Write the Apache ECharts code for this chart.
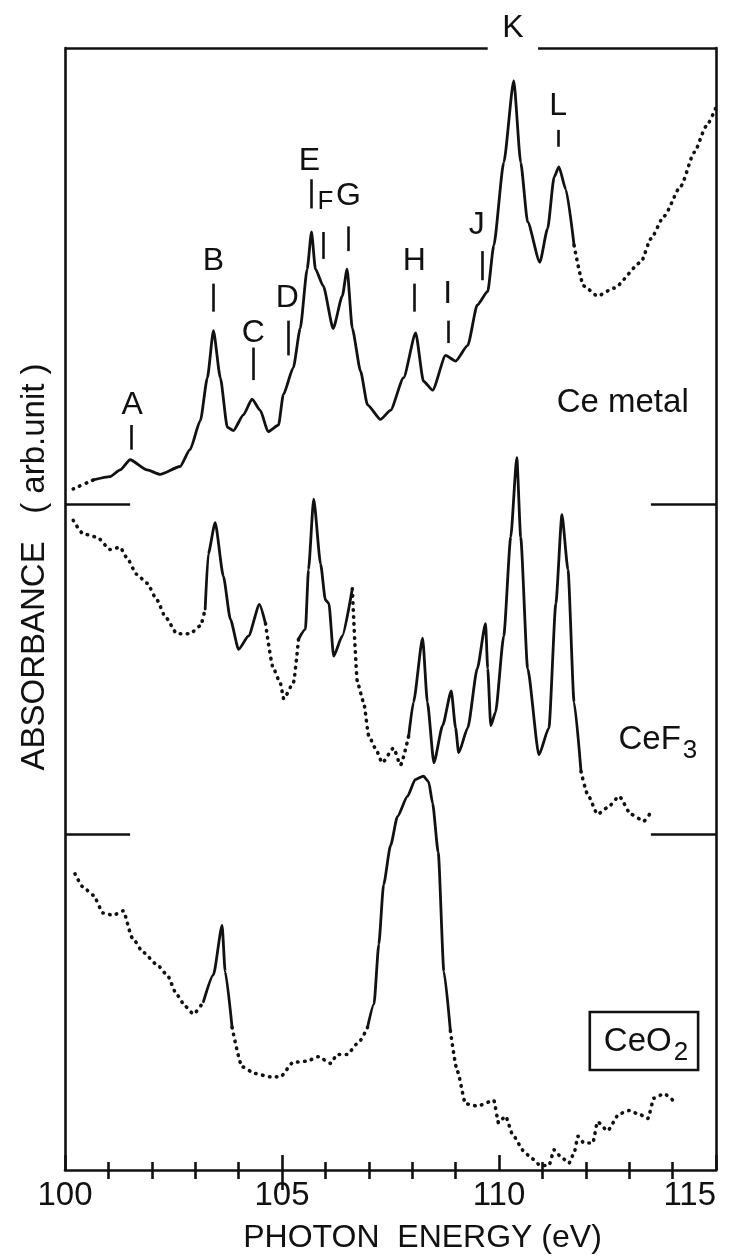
<!DOCTYPE html>
<html><head><meta charset="utf-8">
<script src="https://cdn.jsdelivr.net/npm/echarts@6/dist/echarts.min.js"></script>
<style>html,body{margin:0;padding:0;background:#fff}#c{width:747px;height:1259px}</style>
</head><body><div id="c"></div>
<script>
// ---- data (photon energy in eV, absorbance in arb. units relative to each curve's baseline) ----
const ceMetalE = [100.19,100.65,101.04,101.27,101.5,101.89,102.19,102.65,102.88,103.12,103.28,103.42,103.58,103.74,103.88,104.11,104.31,104.5,104.68,104.92,105.03,105.26,105.42,105.58,105.68,105.77,105.95,106.18,106.39,106.5,106.62,106.81,106.97,107.27,107.5,107.8,108.08,108.26,108.47,108.77,109.0,109.28,109.5,109.74,109.88,110.11,110.34,110.5,110.66,110.94,111.12,111.27,111.38,111.54,111.73,111.95,112.27,112.65,113.27,113.5,113.8,114.19,114.5,114.77,115.0];
const ceMetalV = [1.4,2.2,2.5,3.1,4.0,3.1,2.7,3.4,4.9,7.5,11.3,15.5,11.3,6.9,6.6,8.0,9.4,8.4,6.5,7.1,9.8,12.2,15.7,21.0,24.3,21.0,19.5,15.7,18.6,21.0,15.7,11.9,8.9,7.6,8.4,11.3,15.3,11.0,10.2,13.3,12.8,14.2,17.8,19.0,23.1,30.5,37.8,30.5,25.2,21.6,24.6,29.2,30.1,28.1,23.1,19.5,18.6,19.3,21.6,23.7,25.7,28.4,31.4,33.7,35.4];
const ceMetalOffset = 59.3;
const ceMetalDotted = [[100, 100.7], [111.95, 115]];

const ceF3E = [100.19,100.42,100.74,101.04,101.27,101.42,101.65,101.89,102.12,102.31,102.58,102.88,103.12,103.23,103.3,103.46,103.65,103.81,104.0,104.23,104.48,104.62,104.8,104.96,105.04,105.26,105.38,105.54,105.61,105.73,105.89,106.0,106.08,106.19,106.39,106.62,106.74,106.88,107.0,107.15,107.31,107.57,107.73,107.92,108.03,108.24,108.35,108.5,108.7,108.9,109.0,109.07,109.28,109.5,109.69,109.74,109.81,109.92,110.11,110.27,110.41,110.5,110.66,110.92,111.15,111.31,111.45,111.59,111.73,111.89,112.05,112.27,112.5,112.77,113.04,113.34,113.5];
const ceF3V = [28.0,26.8,26.5,25.4,25.6,24.7,23.2,22.4,20.9,19.4,17.9,17.9,18.6,20.1,25.0,27.8,23.0,19.2,16.5,17.7,20.5,18.8,14.8,13.5,12.1,13.5,17.4,18.3,23.6,29.9,24.1,20.9,20.6,15.9,17.7,21.9,13.5,11.8,8.8,7.7,6.4,7.7,6.2,8.8,11.8,17.5,11.8,6.4,9.7,12.8,9.5,7.3,9.5,14.8,18.8,14.8,9.7,10.9,17.7,26.5,33.6,26.5,14.8,7.1,9.5,20.6,28.5,23.6,11.8,5.6,3.5,1.8,2.4,3.4,1.8,1.2,2.0];
const ceF3Offset = 29.9;
const ceF3Dotted = [[100, 103.23], [104.8, 105.38], [106.74, 107.92], [112.0, 114]];

const ceO2E = [100.23,100.42,100.65,100.88,101.11,101.34,101.55,101.8,102.12,102.35,102.58,102.77,102.96,103.19,103.42,103.62,103.69,103.85,104.08,104.38,104.73,104.96,105.26,105.58,105.84,106.12,106.27,106.5,106.77,106.97,107.12,107.23,107.34,107.5,107.66,107.89,108.07,108.26,108.38,108.47,108.6,108.73,108.88,109.04,109.23,109.5,109.88,109.99,110.15,110.32,110.57,110.73,110.96,111.15,111.27,111.42,111.61,111.73,111.82,111.96,112.16,112.27,112.5,112.77,113.0,113.27,113.43,113.57,113.8,114.04];
const ceO2V = [26.4,25.2,24.5,22.9,22.7,23.1,20.7,19.4,18.3,17.4,15.6,14.6,13.9,15.0,17.4,21.8,17.7,12.7,9.2,8.6,8.3,8.3,9.6,9.7,10.1,9.5,10.3,10.3,11.4,12.7,14.8,20.1,25.4,28.9,31.5,33.3,34.8,35.1,34.6,32.7,28.3,17.7,12.4,8.8,5.9,5.7,6.2,4.2,4.8,3.1,1.7,1.1,0.4,0.4,1.8,1.2,0.6,1.5,3.0,2.4,2.4,4.3,3.5,5.0,5.3,4.9,4.6,6.4,6.8,6.1];
const ceO2Offset = 0;
const ceO2Dotted = [[100, 103.19], [104.08, 107.0], [109.0, 115]];

// peak markers
const peakNames = ['A','B','C','D','E','F','G','H','I','J','K','L'];
const peakLabelE = [101.55,103.42,104.34,105.12,105.63,106.0,106.53,108.05,108.82,109.49,110.32,111.36];
const peakLabelV = [68.2,81.0,74.6,77.7,89.9,86.3,86.8,81.0,78.1,84.2,101.8,94.8];
const peakTickE = [101.52,103.42,104.34,105.15,105.68,105.95,106.53,108.05,108.82,109.62,110.27,111.36];
const peakTickTop = [66.4,79.0,73.3,75.7,88.3,83.6,84.1,79.0,75.7,81.9,100.5,92.7];
const peakTickBottom = [64.2,76.5,70.4,72.6,85.7,81.2,81.9,76.5,73.7,79.3,98.8,91.2];

// sample names
const sampleNames = ['Ce metal', 'CeF3', 'CeO2'];
const sampleLabelE = [112.85, 113.66, 113.34];
const sampleLabelV = [68.4, 38.3, 11.5];

// axis ticks
const xMin = 100, xMax = 115, xMajor = 5;
const topAxisGap = [109.74, 110.9];
const baselineLeftEnd = 101.5, baselineRightStart = 113.5;

// ---- chart ----
const FONT = "'Liberation Sans', Arial, sans-serif";
const INK = '#111111';

function segments(E, V, off, dotted) {
  const isDot = e => dotted.some(r => e >= r[0] && e <= r[1]);
  const segs = []; let cur = null;
  for (let i = 0; i < E.length; i++) {
    const d = isDot(E[i]);
    const p = [E[i], +(V[i] + off).toFixed(2)];
    if (!cur || cur.dot !== d) {
      const s = { dot: d, pts: [] };
      if (cur) s.pts.push(cur.pts[cur.pts.length - 1]);
      segs.push(s); cur = s;
    }
    cur.pts.push(p);
  }
  return segs;
}

const series = [];
[[ceMetalE, ceMetalV, ceMetalOffset, ceMetalDotted],
 [ceF3E, ceF3V, ceF3Offset, ceF3Dotted],
 [ceO2E, ceO2V, ceO2Offset, ceO2Dotted]].forEach(([E, V, off, dot]) => {
  segments(E, V, off, dot).forEach(s => {
    series.push({
      type: 'line', data: s.pts, showSymbol: false, silent: true, z: 3,
      smooth: 0.2, smoothMonotone: 'x',
      lineStyle: s.dot
        ? { color: INK, width: 3.6, type: [0.5, 6.5], cap: 'round' }
        : { color: INK, width: 2.8, cap: 'round', join: 'round' }
    });
  });
});

const tickLines = peakNames.map((n, i) => [
  { coord: [peakTickE[i], peakTickTop[i]] },
  { coord: [peakTickE[i], peakTickBottom[i]] }
]);
const baseLines = [ceMetalOffset, ceF3Offset].flatMap(b => [
  [{ coord: [xMin, b] }, { coord: [baselineLeftEnd, b] }],
  [{ coord: [baselineRightStart, b] }, { coord: [xMax, b] }]
]);
const topLines = [
  [{ coord: [xMin, 100] }, { coord: [topAxisGap[0], 100] }],
  [{ coord: [topAxisGap[1], 100] }, { coord: [xMax, 100] }]
];

const labelBase = {
  show: true, position: 'inside', color: INK, fontFamily: FONT, opacity: 1,
  align: 'center', verticalAlign: 'middle', textBorderWidth: 0, textShadowBlur: 0
};

series.push({
  type: 'scatter', symbolSize: 0, clip: false, silent: true, z: 5,
  itemStyle: { color: INK, opacity: 1 },
  data: peakNames.map((n, i) => ({
    value: [peakLabelE[i], peakLabelV[i], n],
    label: n === 'F' ? { fontSize: 26 } : undefined
  })),
  label: Object.assign({}, labelBase, { fontSize: 32, formatter: p => p.data.value[2] }),
  markLine: {
    silent: true, symbol: ['none', 'none'], label: { show: false },
    lineStyle: { color: INK, width: 2.6, type: 'solid', opacity: 1 },
    data: tickLines.concat(baseLines, topLines)
  }
});

const sampleFmt = {
  'Ce metal': 'Ce metal',
  'CeF3': 'CeF{s|3}',
  'CeO2': 'CeO{s|2}'
};
series.push({
  type: 'scatter', symbolSize: 0, clip: false, silent: true, z: 5,
  itemStyle: { color: INK, opacity: 1 },
  data: sampleNames.map((n, i) => ({
    value: [sampleLabelE[i], sampleLabelV[i], n],
    label: n === 'CeO2' ? { borderColor: INK, borderWidth: 2.6, padding: [6, 10, 4, 14] } : undefined
  })),
  label: Object.assign({}, labelBase, {
    fontSize: 33, formatter: p => sampleFmt[p.data.value[2]],
    rich: { s: { fontSize: 26, fontFamily: FONT, color: INK, padding: [22, 0, 0, 2] } }
  })
});

const axisLineStyle = { color: INK, width: 2.6 };
const option = {
  animation: false,
  backgroundColor: '#fff',
  grid: { left: 65, right: 31, top: 48, bottom: 81 },
  xAxis: [{
    type: 'value', min: xMin, max: xMax, interval: xMajor, position: 'bottom',
    axisLine: { show: true, lineStyle: axisLineStyle },
    axisTick: { show: true, inside: true, length: 15, lineStyle: axisLineStyle },
    minorTick: { show: true, splitNumber: 5, length: 8, lineStyle: axisLineStyle },
    axisLabel: { color: INK, fontSize: 33, fontFamily: FONT, margin: 9, alignMaxLabel: 'right' },
    splitLine: { show: false },
    name: 'PHOTON  ENERGY (eV)', nameLocation: 'middle', nameGap: 52,
    nameTextStyle: { color: INK, fontSize: 32, fontFamily: FONT, padding: [0, 0, 0, 64] }
  }, {
    type: 'value', min: xMin, max: xMax, interval: xMajor, position: 'top',
    axisLine: { show: false },
    axisTick: { show: true, inside: true, length: 20, customValues: [105], lineStyle: axisLineStyle },
    minorTick: { show: true, splitNumber: 5, length: 9, lineStyle: axisLineStyle },
    axisLabel: { show: false }, splitLine: { show: false }
  }],
  yAxis: [{
    type: 'value', min: 0, max: 100, position: 'left',
    axisLine: { show: true, lineStyle: axisLineStyle },
    axisTick: { show: false }, axisLabel: { show: false }, splitLine: { show: false }
  }, {
    type: 'value', min: 0, max: 100, position: 'right',
    axisLine: { show: true, lineStyle: axisLineStyle },
    axisTick: { show: false }, axisLabel: { show: false }, splitLine: { show: false }
  }],
  graphic: [{
    type: 'text', x: 35, y: 567, rotation: Math.PI / 2,
    style: { text: 'ABSORBANCE   ( arb.unit )', fill: INK, font: "33px 'Liberation Sans', Arial, sans-serif",
             align: 'center', verticalAlign: 'middle' }
  }],
  series
};
const chart = echarts.init(document.getElementById('c'), null, { renderer: 'canvas' });
chart.setOption(option);
</script></body></html>
